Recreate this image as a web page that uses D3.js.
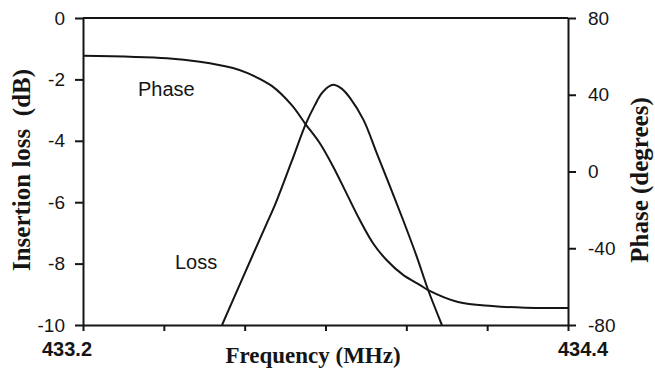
<!DOCTYPE html>
<html>
<head>
<meta charset="utf-8">
<script src="https://cdn.jsdelivr.net/npm/d3@7"></script>
<style>
body { margin: 0; background: #fff; }
svg { display: block; }
</style>
</head>
<body>
<svg id="chart"></svg>
<script>
var width = 655, height = 370;
var margin = ({top: 18, right: 87, bottom: 45, left: 83});

// phase curve (right axis, degrees)
var phaseFreq = [433.2, 433.408, 433.489, 433.571, 433.609, 433.667, 433.716, 433.751, 433.786, 433.819, 433.852, 433.885, 433.918, 433.951, 433.992, 434.034, 434.054, 434.128, 434.212, 434.294, 434.4];
var phaseDeg  = [60.3, 59.0, 57.2, 53.9, 51.1, 44.6, 34.7, 24.6, 14.7, 2.5, -11.4, -25.3, -37.5, -46.1, -53.9, -59.2, -61.8, -68.0, -70.1, -71.0, -71.1];

// insertion loss curve (left axis, dB)
var lossFreq = [433.544, 433.596, 433.655, 433.675, 433.716, 433.751, 433.774, 433.791, 433.811, 433.823, 433.840, 433.861, 433.894, 433.927, 433.960, 433.992, 434.026, 434.054, 434.088];
var lossDb   = [-10.0, -8.44, -6.68, -6.09, -4.68, -3.46, -2.83, -2.45, -2.21, -2.18, -2.30, -2.61, -3.32, -4.41, -5.50, -6.58, -7.78, -8.86, -10.0];

var xTicks = [433.2, 433.4, 433.6, 433.8, 434.0, 434.2, 434.4];
var xTickLabels = ["433.2", "434.4"];
var lossTicks = [0, -2, -4, -6, -8, -10];
var phaseTicks = [80, 40, 0, -40, -80];

var x = d3.scaleLinear()
  .domain([433.2, 434.4])
  .range([margin.left, width - margin.right]);

var yLoss = d3.scaleLinear()
  .domain([-10, 0])
  .range([height - margin.bottom, margin.top]);

var yPhase = d3.scaleLinear()
  .domain([-80, 80])
  .range([height - margin.bottom, margin.top]);

var ink = "#151515";
var tickFont = "Liberation Sans, Arial, sans-serif";
var titleFont = "Liberation Serif, Times New Roman, serif";

// plain hyphen minus, like the original
var plain = d => String(d);

const svg = d3.select("#chart").attr("width", width).attr("height", height);

// top border
svg.append("line")
  .attr("x1", x.range()[0]).attr("x2", x.range()[1])
  .attr("y1", margin.top).attr("y2", margin.top)
  .attr("stroke", ink).attr("stroke-width", 2);

var styleAxis = g => g
  .call(g => g.select(".domain").attr("stroke", ink).attr("stroke-width", 2))
  .call(g => g.selectAll(".tick line").attr("stroke", ink).attr("stroke-width", 2))
  .call(g => g.selectAll(".tick text")
    .attr("fill", ink)
    .attr("font-family", tickFont)
    .attr("font-size", 19));

svg.append("g")
  .attr("transform", `translate(0,${height - margin.bottom})`)
  .call(d3.axisBottom(x).tickValues(xTicks).tickFormat("").tickSize(6).tickSizeOuter(0))
  .call(styleAxis);

svg.append("g")
  .attr("transform", `translate(${margin.left},0)`)
  .call(d3.axisLeft(yLoss).tickValues(lossTicks).tickFormat(plain).tickSize(8).tickPadding(10).tickSizeOuter(0))
  .call(styleAxis);

svg.append("g")
  .attr("transform", `translate(${width - margin.right},0)`)
  .call(d3.axisRight(yPhase).tickValues(phaseTicks).tickFormat(plain).tickSize(8).tickPadding(12).tickSizeOuter(0))
  .call(styleAxis);

// end labels of the frequency axis
svg.append("g")
  .selectAll("text")
  .data(xTickLabels)
  .join("text")
  .attr("x", (d, i) => x(+d) + (i == 0 ? -16 : 15))
  .attr("y", 356)
  .attr("text-anchor", "middle")
  .attr("font-family", tickFont)
  .attr("font-weight", "bold")
  .attr("font-size", 20)
  .attr("fill", ink)
  .text(d => d);

// curves
var phaseLine = d3.line()
  .x((d, i) => x(phaseFreq[i]))
  .y(d => yPhase(d))
  .curve(d3.curveCatmullRom.alpha(0.5));

var lossLine = d3.line()
  .x((d, i) => x(lossFreq[i]))
  .y(d => yLoss(d))
  .curve(d3.curveCatmullRom.alpha(0.5));

svg.append("path")
  .attr("d", phaseLine(phaseDeg))
  .attr("fill", "none").attr("stroke", ink).attr("stroke-width", 2);

svg.append("path")
  .attr("d", lossLine(lossDb))
  .attr("fill", "none").attr("stroke", ink).attr("stroke-width", 2);

// curve names
svg.append("text").attr("x", 138).attr("y", 96)
  .attr("font-family", tickFont).attr("font-size", 20).attr("fill", ink)
  .text("Phase");
svg.append("text").attr("x", 175).attr("y", 269)
  .attr("font-family", tickFont).attr("font-size", 20).attr("fill", ink)
  .text("Loss");

// axis titles
svg.append("text")
  .attr("transform", "translate(30,170) rotate(-90)")
  .attr("text-anchor", "middle")
  .attr("font-family", titleFont).attr("font-weight", "bold").attr("font-size", 25)
  .attr("fill", ink)
  .style("white-space", "pre")
  .text("Insertion loss  (dB)");

svg.append("text")
  .attr("transform", "translate(648,180) rotate(-90)")
  .attr("text-anchor", "middle")
  .attr("font-family", titleFont).attr("font-weight", "bold").attr("font-size", 25)
  .attr("fill", ink)
  .text("Phase (degrees)");

svg.append("text")
  .attr("x", 313).attr("y", 363)
  .attr("text-anchor", "middle")
  .attr("font-family", titleFont).attr("font-weight", "bold").attr("font-size", 23)
  .attr("fill", ink)
  .text("Frequency (MHz)");
</script>
</body>
</html>
